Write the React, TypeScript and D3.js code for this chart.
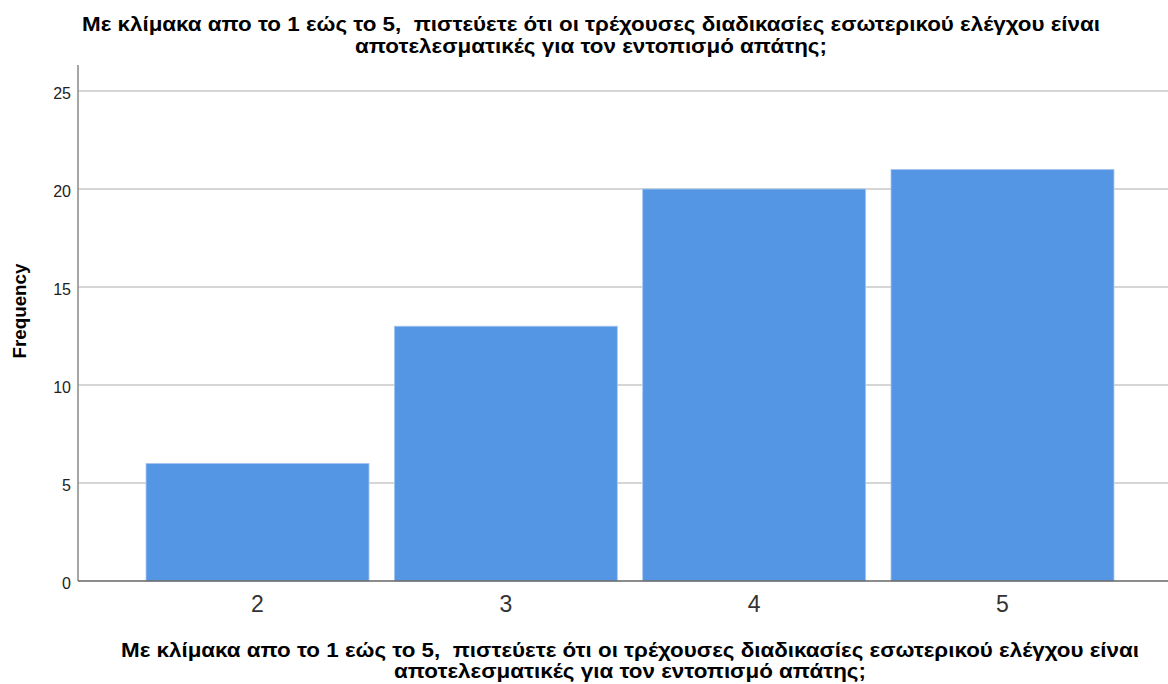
import React from "react";
import * as d3 from "d3";

const categories = ["2", "3", "4", "5"];
const frequencies = [6, 13, 20, 21];
const yTicks = [0, 5, 10, 15, 20, 25];
const titleLines = [
  "Με κλίμακα απο το 1 εώς το 5,  πιστεύετε ότι οι τρέχουσες διαδικασίες εσωτερικού ελέγχου είναι",
  "αποτελεσματικές για τον εντοπισμό απάτης;",
];
const yLabel = "Frequency";

export default function App() {
  const W = 1168, H = 684;
  const axisX = 78, axisTop = 65, baseY = 581, rightX = 1168;
  const y = d3.scaleLinear().domain([0, 25]).range([baseY, 91]);
  const x = d3.scaleBand<string>().domain(categories).range([133.6, 1126.4]).paddingInner(0.102).paddingOuter(0.05);
  const font = "Arial, 'Liberation Sans', sans-serif";
  const lens = [1018, 472];
  return (
    <svg width={W} height={H} style={{ position: "absolute", left: 0, top: 0, background: "#fff" }} fontFamily={font}>
      <rect x={0} y={0} width={W} height={H} fill="#fff" />
      {titleLines.map((t, i) => (
        <text key={"t" + i} x={591} y={31 + i * 22} textAnchor="middle" fontSize={21} fontWeight="bold" fill="#000"
          textLength={lens[i]} lengthAdjust="spacingAndGlyphs" style={{ whiteSpace: "pre" }}>{t}</text>
      ))}
      {yTicks.map((t) => (
        <g key={"g" + t}>
          {t > 0 && <line x1={axisX} x2={rightX} y1={y(t)} y2={y(t)} stroke="#c8c8c8" strokeWidth={1.5} />}
          <text x={71} y={y(t) + 8} textAnchor="end" fontSize={16} fill="#222">{t}</text>
        </g>
      ))}
      {categories.map((c, i) => (
        <rect key={"b" + c} x={x(c)} y={y(frequencies[i])} width={x.bandwidth()} height={baseY - y(frequencies[i])} fill="#5596e4" stroke="#a9c8f0" strokeWidth={0.8} />
      ))}
      <line x1={axisX} x2={axisX} y1={axisTop} y2={baseY} stroke="#888" strokeWidth={1.5} />
      <line x1={axisX} x2={rightX} y1={baseY} y2={baseY} stroke="#666" strokeWidth={1.5} />
      {categories.map((c) => (
        <text key={"x" + c} x={(x(c) as number) + x.bandwidth() / 2} y={612} textAnchor="middle" fontSize={23} fill="#333">{c}</text>
      ))}
      <text transform={`translate(26,311) rotate(-90)`} textAnchor="middle" fontSize={19} fontWeight="bold" fill="#000"
        textLength={95} lengthAdjust="spacingAndGlyphs">{yLabel}</text>
      {titleLines.map((t, i) => (
        <text key={"a" + i} x={630} y={657 + i * 21} textAnchor="middle" fontSize={21} fontWeight="bold" fill="#000"
          textLength={lens[i]} lengthAdjust="spacingAndGlyphs" style={{ whiteSpace: "pre" }}>{t}</text>
      ))}
    </svg>
  );
}
